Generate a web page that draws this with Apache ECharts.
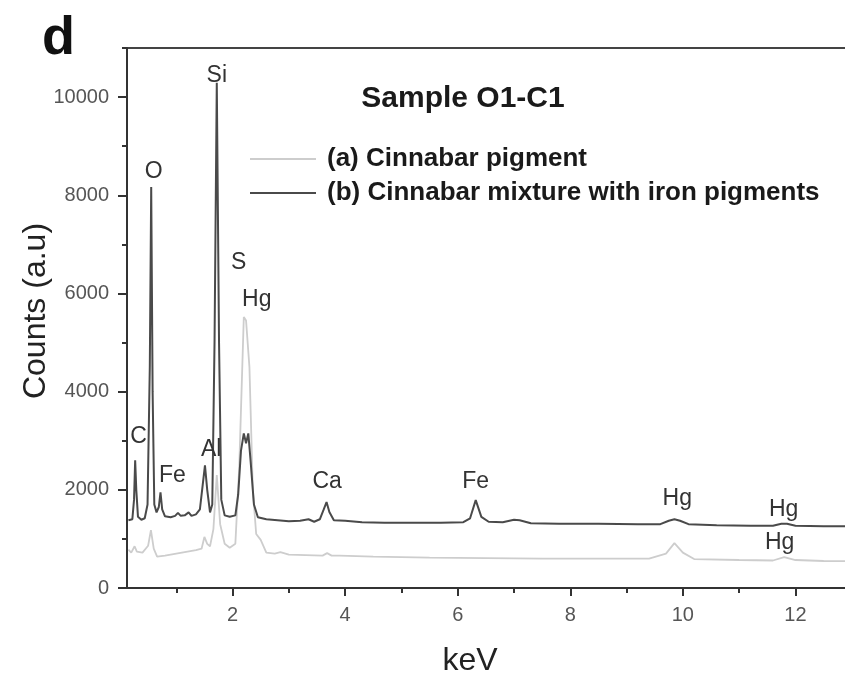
<!DOCTYPE html>
<html>
<head>
<meta charset="utf-8">
<script src="https://cdn.jsdelivr.net/npm/echarts@6/dist/echarts.min.js"></script>
<style>html,body{margin:0;padding:0;background:#fff}#c{width:845px;height:680px}</style>
</head>
<body>
<div id="c"></div>
<script>
// Series (a) Cinnabar pigment (light)
const energyA = [0.15,0.2,0.26,0.3,0.4,0.5,0.55,0.6,0.66,0.8,1.0,1.2,1.35,1.45,1.5,1.55,1.6,1.66,1.72,1.78,1.86,1.95,2.05,2.12,2.2,2.24,2.3,2.36,2.42,2.5,2.6,2.75,2.85,3.0,3.3,3.6,3.68,3.76,3.9,4.5,5.5,6.5,7.5,8.5,9.4,9.7,9.85,10.0,10.2,11.0,11.6,11.8,12.0,12.5,13.2];
const countsA = [780,720,850,740,720,860,1180,800,640,660,700,740,770,800,1040,900,850,1200,2300,1300,900,820,900,2500,5520,5450,4500,2000,1100,980,720,700,730,680,670,660,710,660,660,640,620,610,600,600,600,700,915,720,590,570,560,630,570,550,545];
// Series (b) Cinnabar mixture with iron pigments (dark)
const energyB = [0.15,0.22,0.25,0.27,0.29,0.32,0.38,0.44,0.49,0.53,0.555,0.58,0.61,0.65,0.69,0.72,0.75,0.8,0.9,0.98,1.03,1.08,1.15,1.22,1.27,1.35,1.42,1.47,1.51,1.55,1.6,1.64,1.68,1.72,1.76,1.8,1.86,1.95,2.05,2.1,2.15,2.2,2.24,2.28,2.32,2.38,2.45,2.6,2.8,3.0,3.2,3.35,3.45,3.55,3.62,3.67,3.72,3.8,4.0,4.3,4.7,5.2,5.7,6.1,6.22,6.32,6.42,6.55,6.8,7.0,7.1,7.3,7.8,8.5,9.2,9.6,9.75,9.85,9.95,10.1,10.6,11.2,11.6,11.75,11.85,12.0,12.5,13.2];
const countsB = [1380,1400,1800,2600,2000,1450,1390,1420,1700,4500,8170,4000,1700,1540,1650,1950,1600,1460,1440,1470,1530,1470,1480,1540,1470,1500,1600,2100,2500,2000,1540,1700,5000,10290,5000,1800,1480,1450,1480,1900,2800,3150,2950,3150,2600,1700,1440,1400,1380,1360,1370,1400,1350,1400,1600,1750,1550,1380,1370,1340,1330,1330,1330,1340,1420,1790,1450,1350,1340,1390,1380,1320,1310,1310,1300,1300,1370,1400,1370,1300,1280,1270,1270,1310,1310,1270,1260,1255];
// Peak annotations: element, keV, counts
const peakNames = ['C','O','Fe','Al','Si','S','Hg','Ca','Fe','Hg','Hg','Hg'];
const peakKeV   = [0.33,0.6,0.93,1.62,1.72,2.11,2.43,3.68,6.32,9.90,11.79,11.72];
const peakCounts= [3076,8474,2281,2811,10430,6620,5867,2159,2159,1813,1589,917];
// Axis ticks
const xMajor = [2,4,6,8,10,12];
const xMinor = [1,3,5,7,9,11,13];
const yMajor = [0,2000,4000,6000,8000,10000];
const yMinor = [1000,3000,5000,7000,9000,11000];
const seriesNames = ['(a) Cinnabar pigment','(b) Cinnabar mixture with iron pigments'];

const XMIN = 0.125, XMAX = 13.2, YMIN = 0, YMAX = 11000;
const FONT = '"Liberation Sans", Arial, Helvetica, sans-serif';
const pairs = (xs, ys) => xs.map((x, i) => [x, ys[i]]);

const chart = echarts.init(document.getElementById('c'), null, {renderer: 'canvas'});
const axisLineStyle = {color: '#333', width: 2};
chart.setOption({
  animation: false,
  backgroundColor: '#fff',
  textStyle: {fontFamily: FONT},
  grid: {left: 127, top: 48, width: 736, height: 540, outerBoundsMode: 'none', containLabel: false,
         show: true, borderColor: '#444', borderWidth: 2, backgroundColor: 'transparent'},
  legend: {
    orient: 'vertical', left: 245, top: 141, itemWidth: 66, itemHeight: 2, itemGap: 8, icon: 'rect',
    textStyle: {fontFamily: FONT, fontSize: 26, fontWeight: 'bold', color: '#1a1a1a', padding: [0, 0, 0, 6]},
    data: seriesNames
  },
  xAxis: [
    {type: 'value', min: XMIN, max: XMAX, position: 'bottom',
     axisLine: {show: true, lineStyle: axisLineStyle},
     axisTick: {show: true, length: 8, inside: false, customValues: xMajor, lineStyle: {color: '#333', width: 2}},
     axisLabel: {show: true, customValues: xMajor, margin: 17, fontSize: 20, color: '#555', fontFamily: FONT},
     splitLine: {show: false}},
    {type: 'value', min: XMIN, max: XMAX, position: 'bottom',
     axisLine: {show: false},
     axisTick: {show: true, length: 5, customValues: xMinor, lineStyle: {color: '#333', width: 2}},
     axisLabel: {show: false}, splitLine: {show: false}}
  ],
  yAxis: [
    {type: 'value', min: YMIN, max: YMAX, position: 'left',
     axisLine: {show: true, lineStyle: axisLineStyle},
     axisTick: {show: true, length: 9, customValues: yMajor, lineStyle: {color: '#333', width: 2}},
     axisLabel: {show: true, customValues: yMajor, margin: 18, fontSize: 20, color: '#555', fontFamily: FONT,
                 formatter: v => String(v)},
     splitLine: {show: false}},
    {type: 'value', min: YMIN, max: YMAX, position: 'left',
     axisLine: {show: false},
     axisTick: {show: true, length: 5, customValues: yMinor, lineStyle: {color: '#333', width: 2}},
     axisLabel: {show: false}, splitLine: {show: false}}
  ],
  series: [
    {name: seriesNames[0], type: 'line', xAxisIndex: 0, yAxisIndex: 0, symbol: 'none',
     lineStyle: {color: '#cdcdcd', width: 1.8}, itemStyle: {color: '#cdcdcd'},
     data: pairs(energyA, countsA)},
    {name: seriesNames[1], type: 'line', xAxisIndex: 0, yAxisIndex: 0, symbol: 'none',
     lineStyle: {color: '#4a4a4a', width: 2}, itemStyle: {color: '#4a4a4a'},
     data: pairs(energyB, countsB),
     markPoint: {
       symbol: 'circle', symbolSize: 0, silent: true,
       label: {show: true, position: 'inside', formatter: p => p.name, fontSize: 23, color: '#333', fontFamily: FONT},
       data: peakNames.map((n, i) => ({name: n, coord: [peakKeV[i], peakCounts[i]]}))
     }}
  ],
  graphic: [
    {type: 'text', left: 42, top: 12, style: {text: 'd', font: 'bold 54px ' + FONT, fill: '#111'}},
    {type: 'text', x: 463, y: 99, style: {text: 'Sample O1-C1', font: 'bold 30px ' + FONT, fill: '#1a1a1a', align: 'center', verticalAlign: 'middle'}},
    {type: 'text', x: 36, y: 311, rotation: Math.PI / 2, style: {text: 'Counts (a.u)', font: '32px ' + FONT, fill: '#222', align: 'center', verticalAlign: 'middle'}},
    {type: 'text', x: 470, y: 661, style: {text: 'keV', font: '32px ' + FONT, fill: '#222', align: 'center', verticalAlign: 'middle'}}
  ]
});
</script>
</body>
</html>
